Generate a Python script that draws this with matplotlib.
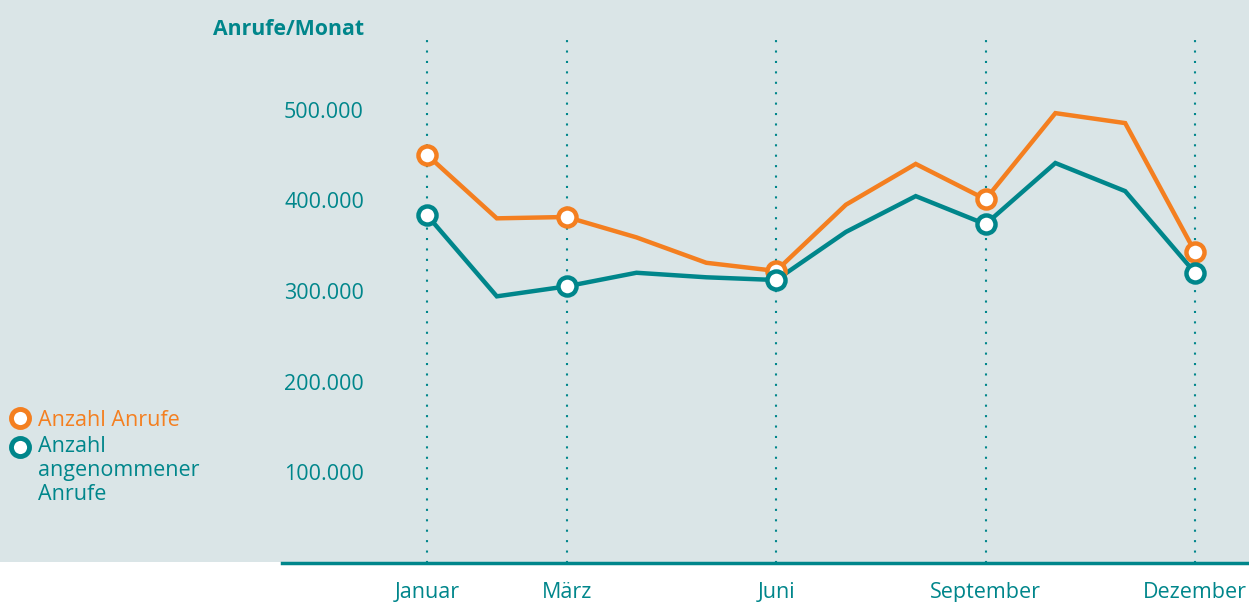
import matplotlib
matplotlib.use("Agg")
import matplotlib.pyplot as plt
from matplotlib.patches import Rectangle
from matplotlib.lines import Line2D

months = ["Jan", "Feb", "Mär", "Apr", "Mai", "Jun", "Jul", "Aug", "Sep", "Okt", "Nov", "Dez"]
anrufe = [450000, 380000, 381500, 359000, 331000, 322000, 395000, 440000, 401000, 496000, 485000, 343000]
angenommen = [383500, 294000, 305000, 320000, 315000, 312000, 365000, 404500, 373500, 441000, 410000, 320000]
tick_idx = [0, 2, 5, 8, 11]
tick_labels = ["Januar", "März", "Juni", "September", "Dezember"]
y_ticks = [100000, 200000, 300000, 400000, 500000]
y_tick_labels = ["100.000", "200.000", "300.000", "400.000", "500.000"]

ORANGE = "#f47f20"
TEAL = "#00868b"
BG = "#dae5e7"
FONT = ["Open Sans", "DejaVu Sans"]
plt.rcParams["font.family"] = FONT
FS = 15.5

W, H = 1249, 602
fig = plt.figure(figsize=(W / 100, H / 100), dpi=100, facecolor="white")
fig.patches.append(Rectangle((0, 1 - 562 / H), 1, 562 / H, transform=fig.transFigure,
                             facecolor=BG, edgecolor="none", zorder=-10))

left = 282 / W
bottom = 1 - 563 / H
top_px = 38
ax = fig.add_axes([left, bottom, 1 - left, (563 - top_px) / H])
ax.set_facecolor("none")
ax.set_zorder(1)

px_per_month = (1195 - 427) / 11
x0 = -(427 - 282) / px_per_month
x1 = 11 + (1249 - 1195) / px_per_month
ax.set_xlim(x0, x1)
ypx = 90.7 / 100000
ax.set_ylim(0, (563 - top_px) / ypx)

x = list(range(len(months)))
for i in tick_idx:
    ax.axvline(i, color=TEAL, linestyle=(0, (1, 4)), linewidth=1.5, zorder=1)

ax.plot(x, anrufe, color=ORANGE, lw=3.2, zorder=3, solid_joinstyle="miter")
ax.plot(x, angenommen, color=TEAL, lw=3.2, zorder=3, solid_joinstyle="miter")
ax.plot(tick_idx, [anrufe[i] for i in tick_idx], "o", ms=13, mfc="white", mec=ORANGE, mew=3.2, zorder=4, ls="none")
ax.plot(tick_idx, [angenommen[i] for i in tick_idx], "o", ms=13, mfc="white", mec=TEAL, mew=3.2, zorder=4, ls="none")

for s in ["left", "right", "top"]:
    ax.spines[s].set_visible(False)
ax.spines["bottom"].set_color(TEAL)
ax.spines["bottom"].set_linewidth(2.5)
ax.set_yticks([])
ax.set_xticks(tick_idx)
ax.set_xticklabels(tick_labels, color=TEAL, fontsize=FS)
ax.tick_params(axis="x", length=0, pad=14)

tr = matplotlib.transforms.blended_transform_factory(fig.transFigure, ax.transData)
for v, lab in zip(y_ticks, y_tick_labels):
    ax.text(364 / W, v, lab, transform=tr, ha="right", va="center_baseline", color=TEAL, fontsize=FS)

fig.text(364 / W, 1 - 27 / H, "Anrufe/Monat", ha="right", va="center_baseline", color=TEAL,
         fontsize=15.3, fontweight="bold")

# legend
for ypos, col in [(418, ORANGE), (447, TEAL)]:
    fig.add_artist(Line2D([20 / W], [1 - ypos / H], marker="o", ms=13, mfc="white", mec=col,
                          mew=3.5, transform=fig.transFigure, ls="none"))
fig.text(38 / W, 1 - 418 / H, "Anzahl Anrufe", ha="left", va="center_baseline", color=ORANGE, fontsize=FS)
fig.text(38 / W, 1 - 436 / H, "Anzahl\nangenommener\nAnrufe", ha="left", va="top", color=TEAL,
         fontsize=FS, linespacing=1.2)

fig.savefig("out.png", dpi=100, facecolor="white")
